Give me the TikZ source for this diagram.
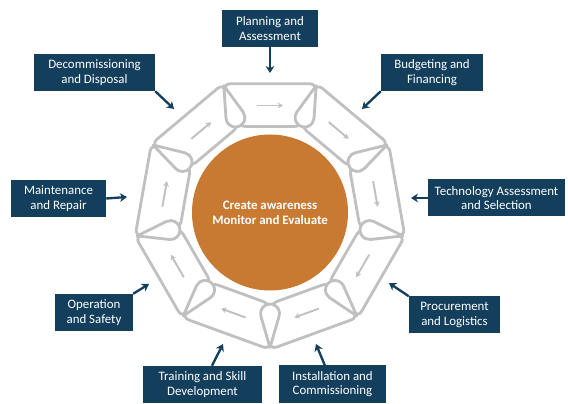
\documentclass[tikz,border=0pt]{standalone}
\usepackage{fontspec}
\setmainfont{Carlito}
\usetikzlibrary{positioning, arrows.meta, calc}
\definecolor{boxblue}{RGB}{19,63,93}
\definecolor{ringgray}{RGB}{192,192,192}
\definecolor{huborange}{RGB}{200,122,50}
\tikzset{
  stage/.style={
    rectangle,
    fill=boxblue,
    text=white,
    align=center,
    minimum height=1.11cm,
    inner sep=2pt,
    font=\fontsize{11}{12.5}\selectfont
  },
  pointer/.style={
    draw=boxblue,
    line width=2pt,
    -{Stealth[length=6pt, width=7.5pt]}
  }
}

\begin{document}
\begin{tikzpicture}[x=0.03cm, y=0.03cm,
      segment/.style={draw=ringgray, fill=white, line width=2.4pt, rounded corners=6pt, line join=round},
      joint/.style={draw=ringgray, fill=white, line width=2.4pt, line join=round},
      flow/.style={draw=ringgray, line width=1.6pt, -{Stealth[length=4.5pt, width=5pt]}}
    ]
      \useasboundingbox (-270,-191.5) rectangle (298,212.5);

      % Ring
      \foreach \a in {90,50,...,-230} {
        \draw[segment] (\a+20:137) -- (\a-20:137) -- (\a-20:91.5) -- (\a+20:91.5) -- cycle;
        \draw[flow] ($(\a:107)+(\a+90:13)$) -- ($(\a:107)+(\a-90:13)$);
      }
      \foreach \v in {70,30,...,-250} {
        \draw[joint] (\v:135) -- ($(\v:101)+(\v+74.6:9.5)$) arc[start angle=\v+74.6, end angle=\v+285.4, radius=9.5] -- cycle;
      }

      \node[circle, fill=huborange, minimum size=4.68cm, text=white, align=center,
            font=\bfseries\fontsize{11}{13}\selectfont] (hub) at (0,0) {Create awareness\\Monitor and Evaluate};

      \node[stage, minimum width=2.88cm] (plan) at (0,184) {Planning and\\Assessment};
      \node[stage, minimum width=3.06cm] (budget) at (162,140) {Budgeting and\\Financing};
      \node[stage, minimum width=4.11cm] (tech) at (226.5,14.5) {Technology Assessment\\and Selection};
      \node[stage, minimum width=2.73cm] (proc) at (184.5,-102.5) {Procurement\\and Logistics};
      \node[stage, minimum width=3.21cm] (inst) at (62.5,-171.5) {Installation and\\Commissioning};
      \node[stage, minimum width=3.57cm] (train) at (-67.5,-172) {Training and Skill\\Development};
      \node[stage, minimum width=2.34cm] (oper) at (-176,-100) {Operation\\and Safety};
      \node[stage, minimum width=2.85cm] (maint) at (-211.5,14) {Maintenance\\and Repair};
      \node[stage, minimum width=3.63cm] (decom) at (-175.5,140) {Decommissioning\\and Disposal};

      % Strzalki do pierscienia
      \coordinate (tplan) at (0,139.5);
      \coordinate (tbudget) at (92,103.5);
      \coordinate (ttech) at (141,14.5);
      \coordinate (tproc) at (119,-70.5);
      \coordinate (tinst) at (46,-131.5);
      \coordinate (ttrain) at (-47,-131.5);
      \coordinate (toper) at (-121,-71.5);
      \coordinate (tmaint) at (-143,15.5);
      \coordinate (tdecom) at (-96,103.5);

      \draw[pointer] (plan.south) -- (tplan);
      \draw[pointer] (budget.south west) -- (tbudget);
      \draw[pointer] (tech.west) -- (ttech);
      \draw[pointer] (proc.north west) -- (tproc);
      \draw[pointer] (inst) -- (tinst);
      \draw[pointer] (train) -- (ttrain);
      \draw[pointer] (oper.north east) -- (toper);
      \draw[pointer] (maint.east) -- (tmaint);
      \draw[pointer] (decom.south east) -- (tdecom);
    \end{tikzpicture}
\end{document}
